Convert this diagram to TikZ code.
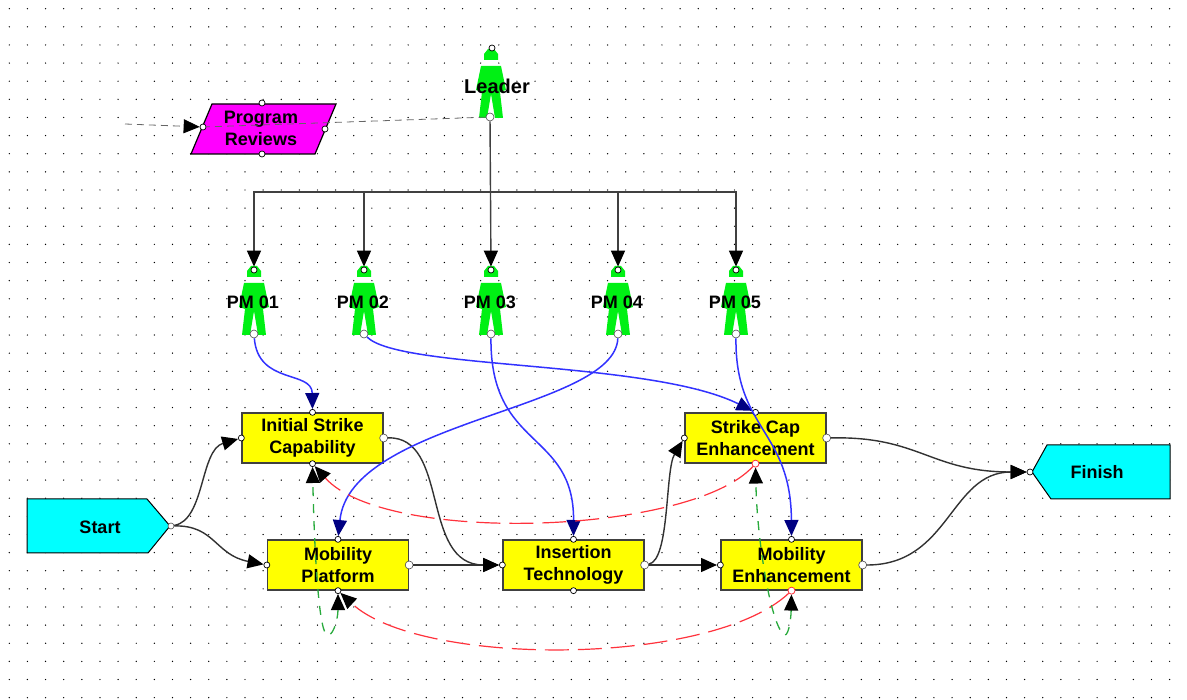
\documentclass[tikz,border=0pt]{standalone}
\usepackage{fontspec}
\setmainfont{Liberation Sans}
\usetikzlibrary{arrows.meta}
\definecolor{mangreen}{RGB}{0,240,20}
\definecolor{linkblue}{RGB}{50,50,255}
\definecolor{tipblue}{RGB}{0,0,130}
\definecolor{feedred}{RGB}{255,50,60}
\definecolor{feedgreen}{RGB}{40,170,60}
\definecolor{flowgrey}{RGB}{50,50,50}
\definecolor{reviewfill}{RGB}{255,0,255}
\definecolor{endfill}{RGB}{0,255,255}
\definecolor{taskfill}{RGB}{255,255,0}
\tikzset{
	every node/.style={font=\bfseries\fontsize{18}{22.5}\selectfont, align=center},
	task/.style={draw=black!75, line width=1.3pt, fill=taskfill, minimum width=141pt, minimum height=50pt, inner sep=0pt},
	label/.style={inner sep=0pt, text=black},
	inport/.style={circle, draw=black, fill=white, line width=0.7pt, minimum size=6pt, inner sep=0pt},
	outport/.style={circle, draw=black!70, fill=white, line width=0.6pt, minimum size=8pt, inner sep=0pt},
	redport/.style={circle, draw=feedred, fill=white, line width=0.8pt, minimum size=7pt, inner sep=0pt},
	tiphead/.style={-{Triangle[length=16pt,width=14pt,fill=black,color=black]}},
	bothheads/.style={{Triangle[length=16pt,width=14pt,fill=black,color=black]}-{Triangle[length=16pt,width=14pt,fill=black,color=black]}},
	flow/.style={draw=flowgrey, line width=1.4pt, tiphead},
	command/.style={draw=black!75, line width=1.4pt, tiphead},
	assign/.style={draw=linkblue, line width=1.5pt, -{Triangle[length=16pt,width=14pt,fill=tipblue,color=tipblue]}},
	feedback/.style={draw=feedred, line width=1.2pt, dash pattern=on 24pt off 9pt, tiphead},
	support/.style={draw=feedgreen, line width=1.3pt, dash pattern=on 9pt off 8pt, bothheads},
	review/.style={draw=black!60, line width=0.8pt, dash pattern=on 7pt off 5pt}
}
\begin{document}
\begin{tikzpicture}[x=1pt,y=-1pt]
	\useasboundingbox (0,0) rectangle (1187,700);
	\fill [white] (0,0) rectangle (1187,700);
	\foreach \i in {0,...,64}
		\foreach \j in {0,...,38}
			\fill [black] ({9.3+18.13*\i},{8.7+18.13*\j}) circle (0.7);

	\fill [fill=reviewfill, draw=black, line width=1.2pt] (212,104) -- (336,104) -- (315,154) -- (191,154) -- cycle;
	\node [label] (reviews) at (261,128.5) {Program\\Reviews};
	\node [inport] (reviewstop) at (262,103) {};
	\node [inport] (reviewsbot) at (262,154) {};
	\node [inport] (reviewsleft) at (203,127) {};
	\node [inport] (reviewsright) at (325,129) {};
	\coordinate (reviewsin) at (125,124);

	\fill [fill=endfill, draw=black, line width=1pt] (27,499) -- (147,499) -- (170,526) -- (148,553) -- (27,553) -- cycle;
	\node [label] (start) at (100,527) {Start};
	\node [outport, minimum size=6pt] (startout) at (171,526) {};
	\fill [fill=endfill, draw=black, line width=1pt] (1170,445) -- (1047,445) -- (1032,472) -- (1051,499) -- (1170,499) -- cycle;
	\node [label] (finish) at (1097,472) {Finish};
	\node [inport] (finishin) at (1030,472) {};

	\node [task] (initial) at (312.5,438) {Initial Strike\\Capability};
	\node [task] (platform) at (338,565) {Mobility\\Platform};
	\node [task] (insertion) at (573.5,565) {Insertion\\Technology};
	\node [task] (strikecap) at (755.5,438) {Strike Cap\\Enhancement};
	\node [task] (enhance) at (791.5,565) {Mobility\\Enhancement};

	\foreach \id/\x in {pm1/254, pm2/364, pm3/491, pm4/618, pm5/736}{
		\fill [mangreen] (\x-3,266) -- (\x+3,266) -- (\x+7,271) -- (\x+7,277) -- (\x-7,277) -- (\x-7,271) -- cycle;
		\fill [mangreen] (\x-10,283) -- (\x+10,283) -- (\x+15,307) -- (\x+9,309) -- (\x+12,335) -- (\x+4,335) -- (\x,311) -- (\x-4,335) -- (\x-12,335) -- (\x-9,309) -- (\x-15,307) -- cycle;
	}
	\foreach \id/\x/\txt in {pm1/254/PM 01, pm2/364/PM 02, pm3/491/PM 03, pm4/618/PM 04, pm5/736/PM 05}{
		\node [inport] (\id top) at (\x,270) {};
		\node [outport] (\id bot) at (\x,334) {};
		\node [label] (\id) at (\x-1,302) {\txt};
	}
	\fill [mangreen] (488,49) -- (494,49) -- (498,54) -- (498,60) -- (484,60) -- (484,54) -- cycle;
	\fill [mangreen] (481,66) -- (501,66) -- (506,90) -- (500,92) -- (503,118) -- (495,118) -- (491,94) -- (487,118) -- (479,118) -- (482,92) -- (476,90) -- cycle;
	\node [inport] (leadertop) at (492,48) {};
	\node [outport] (leaderbot) at (490,117) {};
	\node [label, font=\bfseries\fontsize{20}{22}\selectfont] (leader) at (497,86) {Leader};

	\node [outport] (initialout) at (initial.east) {};
	\node [inport] (initialin) at (initial.west) {};
	\node [inport] (initialtop) at (initial.north) {};
	\node [inport] (initialbot) at (initial.south) {};
	\node [outport] (platformout) at (platform.east) {};
	\node [inport] (platformin) at (platform.west) {};
	\node [inport] (platformtop) at (platform.north) {};
	\node [inport] (platformbot) at (platform.south) {};
	\node [outport] (insertionout) at (insertion.east) {};
	\node [inport] (insertionin) at (insertion.west) {};
	\node [inport] (insertiontop) at (insertion.north) {};
	\node [inport] (insertionbot) at (insertion.south) {};
	\node [outport] (strikecapout) at (strikecap.east) {};
	\node [inport] (strikecapin) at (strikecap.west) {};
	\node [inport] (strikecaptop) at (strikecap.north) {};
	\node [redport] (strikecapbot) at (strikecap.south) {};
	\node [outport] (enhanceout) at (enhance.east) {};
	\node [inport] (enhancein) at (enhance.west) {};
	\node [inport] (enhancetop) at (enhance.north) {};
	\node [redport] (enhancebot) at (enhance.south) {};
	\coordinate (leftloop) at (326,634);
	\coordinate (rightloop) at (783,634);

	\draw [review, tiphead] (reviewsin) -- (reviewsleft);
	\draw [review] (leaderbot) -- (reviewsleft);

	\draw [command] (leaderbot) -- (pm3top);
	\foreach \id/\x in {pm1/254, pm2/364, pm4/618, pm5/736}
		\draw [command] (pm3top |- 0,192) -- (\x,192) -- (\id top);

	\draw [flow] (startout) .. controls (205,520) and (200,450) .. (initialin);
	\draw [flow] (startout) .. controls (215,525) and (215,555) .. (platformin);
	\draw [flow] (initialout) .. controls (450,436) and (420,565) .. (insertionin);
	\draw [flow] (platformout) -- (insertionin);
	\draw [flow] (insertionout) -- (enhancein);
	\draw [flow] (insertionout) .. controls (670,560) and (665,470) .. (strikecapin);
	\draw [flow] (strikecapout) .. controls (920,436) and (930,472) .. (finishin);
	\draw [flow] (enhanceout) .. controls (950,565) and (950,472) .. (finishin);

	\draw [assign] (pm1bot) .. controls (258,385) and (312,370) .. (initialtop);
	\draw [assign] (pm2bot) .. controls (400,370) and (650,360) .. (strikecaptop);
	\draw [assign] (pm3bot) .. controls (490,450) and (574,430) .. (insertiontop);
	\draw [assign] (pm4bot) .. controls (615,410) and (350,420) .. (platformtop);
	\draw [assign] (pm5bot) .. controls (735,430) and (791,430) .. (enhancetop);

	\draw [feedback] (strikecapbot) .. controls (690,535) and (385,545) .. (initialbot);
	\draw [feedback] (enhancebot) .. controls (710,667) and (420,667) .. (platformbot);

	\draw [support] (platformbot) .. controls (338,620) and (332,640) .. (leftloop) .. controls (318,625) and (314,540) .. (initialbot);
	\draw [support] (enhancebot) .. controls (791,620) and (788,640) .. (rightloop) .. controls (770,620) and (757,540) .. (strikecapbot);
\end{tikzpicture}
\end{document}
